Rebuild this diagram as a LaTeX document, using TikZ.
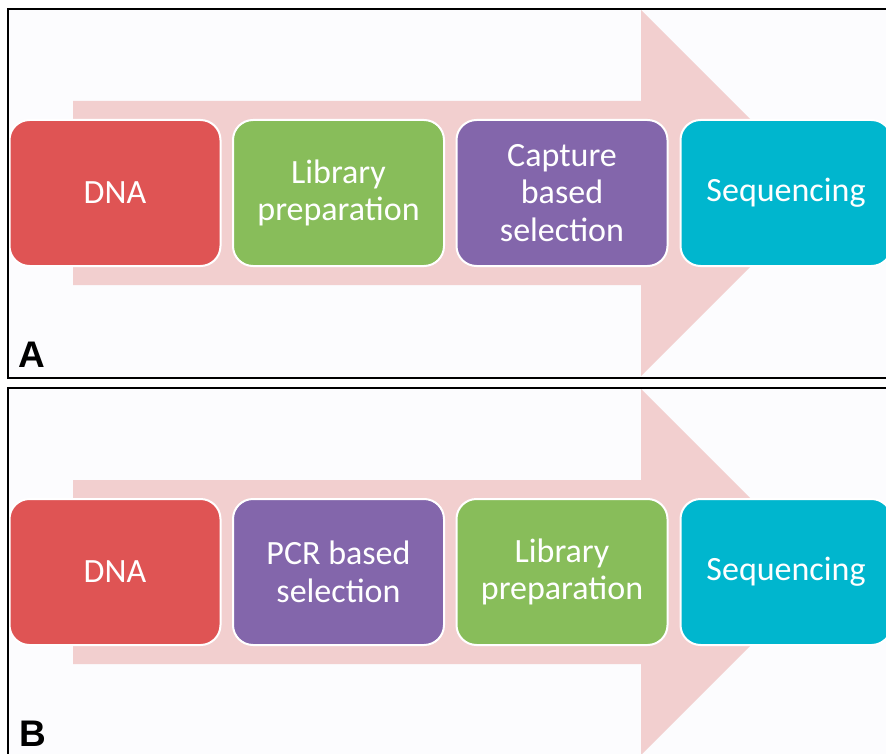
\documentclass[tikz,border=0pt]{standalone}
\usepackage{fontspec}
\setmainfont{Carlito}
\newfontfamily\panelfont{Liberation Sans}
\usetikzlibrary{positioning}
\definecolor{dnared}{HTML}{DF5454}
\definecolor{libgreen}{HTML}{88BD5A}
\definecolor{selpurple}{HTML}{8366AB}
\definecolor{seqteal}{HTML}{00B6CE}
\definecolor{arrowpink}{HTML}{F2CFCF}
\definecolor{panelbg}{HTML}{FCFCFE}
\newcommand{\flowarrow}[1]{%
  \fill[arrowpink] (73,#1-92) -- (641,#1-92) -- (641,#1-183) -- (824,#1)
    -- (641,#1+183) -- (641,#1+92) -- (73,#1+92) -- cycle;}

\begin{document}
\begin{tikzpicture}[x=1pt,y=-1pt,
  stagebox/.style={rectangle,rounded corners=20pt,draw=white,line width=2pt,
    minimum width=211pt,minimum height=146pt,inner sep=0pt,align=center,
    text=white,font=\fontsize{34}{37.5}\selectfont},
  panellabel/.style={anchor=base west,inner sep=0pt,
    font=\panelfont\bfseries\fontsize{37}{37}\selectfont}]
\useasboundingbox (0,0) rectangle (886,754);
\clip (0,0) rectangle (886,754);
\fill[white] (0,0) rectangle (886,754);

% panel A
\fill[panelbg] (8,9) rectangle (900,378);
\flowarrow{193}
\node[stagebox,fill=dnared] (dnaA) at (115,193) {DNA};
\node[stagebox,fill=libgreen,right=10.5pt of dnaA] (libA) {Library\\preparation};
\node[stagebox,fill=selpurple,right=10.5pt of libA] (capA) {Capture\\based\\selection};
\node[stagebox,fill=seqteal,right=11pt of capA] (seqA) {Sequencing};
\node[panellabel] (labA) at (18,367) {A};
\draw[line width=2pt] (900,9) -- (8,9) -- (8,378) -- (900,378);

% panel B
\fill[panelbg] (8,388) rectangle (900,770);
\flowarrow{572}
\node[stagebox,fill=dnared] (dnaB) at (115,572) {DNA};
\node[stagebox,fill=selpurple,right=10.5pt of dnaB] (pcrB) {PCR based\\selection};
\node[stagebox,fill=libgreen,right=10.5pt of pcrB] (libB) {Library\\preparation};
\node[stagebox,fill=seqteal,right=11pt of libB] (seqB) {Sequencing};
\node[panellabel] (labB) at (19,746) {B};
\draw[line width=2pt] (900,388) -- (8,388) -- (8,770);
\end{tikzpicture}
\end{document}
